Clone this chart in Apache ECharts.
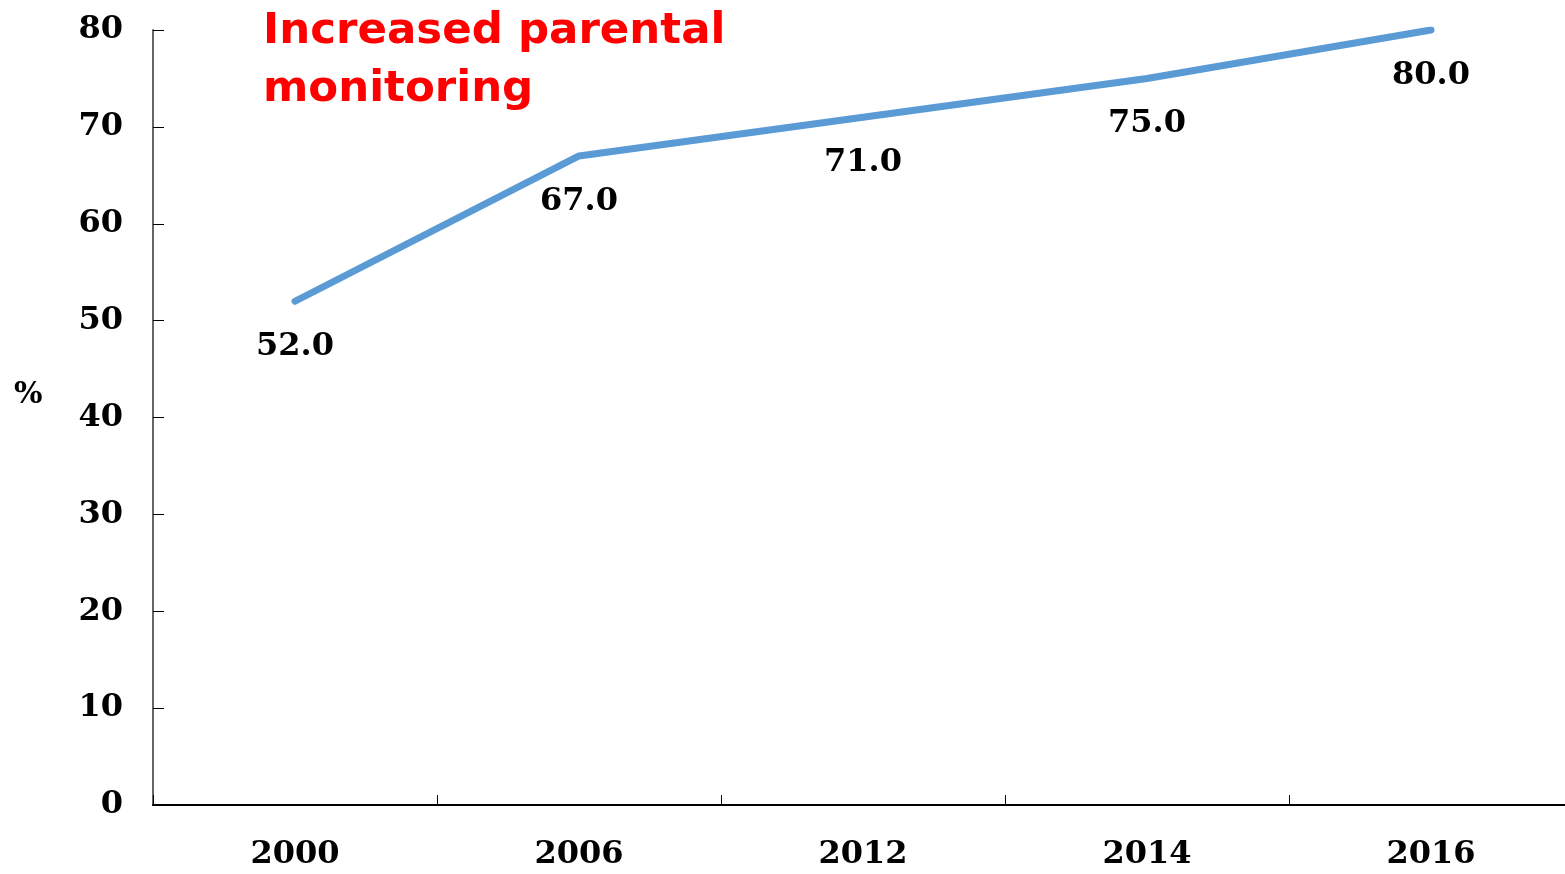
<!DOCTYPE html>
<html>
<head>
<meta charset="utf-8">
<script src="https://cdn.jsdelivr.net/npm/echarts@6/dist/echarts.min.js"></script>
<style>
  html, body { margin: 0; padding: 0; background: #fff; }
  #chart { width: 1565px; height: 874px; }
</style>
</head>
<body>
<div id="chart"></div>
<script>
// Share of parents monitoring their children, by survey year
const years = ['2000', '2006', '2012', '2014', '2016'];
const monitoring = [52.0, 67.0, 71.0, 75.0, 80.0];
const yTicks = { min: 0, max: 80, interval: 10 };

const serif = '"DejaVu Serif", "Liberation Serif", serif';
const lineColor = '#5b9bd5';

const chart = echarts.init(document.getElementById('chart'));
chart.setOption({
  backgroundColor: '#ffffff',
  animation: false,
  title: {
    text: 'Increased parental\nmonitoring',
    left: 258,
    top: -2,
    textStyle: {
      color: '#ff0000',
      fontFamily: '"DejaVu Sans", Verdana, sans-serif',
      fontWeight: 'bold',
      fontSize: 43.5,
      lineHeight: 58
    }
  },
  graphic: [{
    type: 'text',
    left: 14,
    top: 380,
    style: {
      text: '%',
      fill: '#000',
      font: 'bold 30px ' + serif
    }
  }],
  // plot runs slightly past the right edge of the page
  grid: {
    left: 153, width: 1420, top: 30, bottom: 69,
    containLabel: false, outerBoundsMode: 'none'
  },
  xAxis: {
    type: 'category',
    data: years,
    boundaryGap: true,
    axisLine: { show: true, lineStyle: { color: '#000', width: 2 } },
    axisTick: { show: true, inside: true, length: 10, lineStyle: { color: '#000', width: 1 } },
    axisLabel: {
      margin: 34,
      color: '#000',
      fontFamily: serif,
      fontWeight: 'bold',
      fontSize: 32
    }
  },
  yAxis: {
    type: 'value',
    min: yTicks.min,
    max: yTicks.max,
    interval: yTicks.interval,
    splitLine: { show: false },
    axisLine: { show: true, lineStyle: { color: '#666', width: 2 } },
    axisTick: { show: true, inside: true, length: 11, lineStyle: { color: '#000', width: 1 } },
    axisLabel: {
      margin: 30,
      color: '#000',
      fontFamily: serif,
      fontWeight: 'bold',
      fontSize: 32
    }
  },
  series: [{
    type: 'line',
    data: monitoring,
    symbol: 'circle',
    symbolSize: 5,
    showSymbol: true,
    itemStyle: { color: lineColor, borderWidth: 0 },
    lineStyle: { color: lineColor, width: 7, cap: 'round' },
    label: {
      show: true,
      position: 'bottom',
      distance: 27,
      color: '#000',
      fontFamily: serif,
      fontWeight: 'bold',
      fontSize: 32,
      formatter: p => p.value.toFixed(1)
    }
  }]
});
</script>
</body>
</html>
